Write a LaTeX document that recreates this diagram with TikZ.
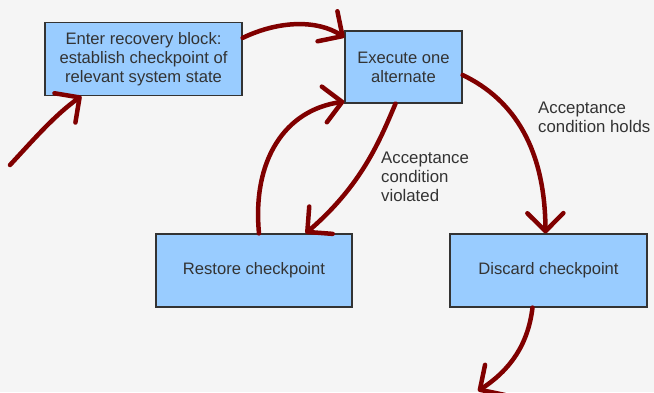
\documentclass[tikz,border=0pt]{standalone}
\usepackage{fontspec}
\setmainfont{Liberation Sans}
\usetikzlibrary{positioning, arrows.meta}
\definecolor{BoxColor}{RGB}{153,204,255}
\definecolor{BorderColor}{RGB}{51,51,51}
\definecolor{TextColor}{RGB}{51,51,51}
\definecolor{PenColor}{RGB}{128,0,0}
\definecolor{BgColor}{RGB}{245,245,245}
\tikzstyle{stepbox} = [rectangle, draw=BorderColor, fill=BoxColor, line width=1.2pt, inner sep=0pt, text=TextColor, align=center, font=\fontsize{16.6}{18.8}\selectfont]
\tikzstyle{note} = [inner sep=0pt, text=TextColor, align=left, anchor=north west, font=\fontsize{16.8}{19}\selectfont]
\tikzstyle{pen} = [PenColor, line width=4.5pt, line cap=round, line join=round, -{Straight Barb[length=18pt,width=36pt,round]}]

\begin{document}
\begin{tikzpicture}[x=1pt, y=-1pt]
                % Background
                \fill[BgColor] (0,0) rectangle (654,392);
                \useasboundingbox (0,0) rectangle (654,392);
                \clip (0,0) rectangle (654,392);

                % Recovery block steps
                \node[stepbox, minimum width=197pt, minimum height=73pt] (enter) at (143.5,59) {Enter recovery block:\\establish checkpoint of\\relevant system state};
                \node[stepbox, minimum width=117pt, minimum height=72pt] (execute) at (403.5,67) {Execute one\\alternate};
                \node[stepbox, minimum width=196pt, minimum height=73pt] (restore) at (254,270.5) {Restore checkpoint};
                \node[stepbox, minimum width=197pt, minimum height=73pt] (discard) at (548.5,270.5) {Discard checkpoint};

                % Free ends
                \coordinate (start) at (10,165);
                \coordinate (exit) at (478,391);

                % Hand-drawn connections
                \draw[pen] (start) .. controls (35,138) and (55,115) .. ([xshift=37pt]enter.south west);
                \draw[pen] ([yshift=-16pt]enter.north east) .. controls (280,20) and (318,20) .. ([yshift=-7pt]execute.north west);
                \draw[pen] ([xshift=-8pt]execute.south) .. controls (380,140) and (362,185) .. ([xshift=-47pt]restore.north east);
                \draw[pen] ([xshift=5pt]restore.north) .. controls (252,160) and (285,110) .. ([yshift=2pt]execute.south west);
                \draw[pen] ([yshift=-8pt]execute.east) .. controls (515,100) and (545,150) .. ([xshift=-3pt]discard.north);
                \draw[pen] ([xshift=-16pt]discard.south) .. controls (528,345) and (510,370) .. (exit);

                % Conditions
                \node[note] (holds) at (538,102) {Acceptance\\condition holds};
                \node[note] (violated) at (381,152) {Acceptance\\condition\\violated};
            \end{tikzpicture}
\end{document}
